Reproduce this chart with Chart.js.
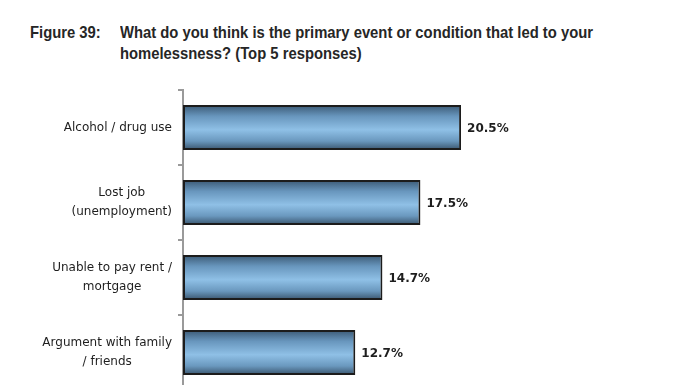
<!DOCTYPE html>
<html>
<head>
<meta charset="utf-8">
<script src="https://cdn.jsdelivr.net/npm/chart.js@4.4.1/dist/chart.umd.min.js"></script>
<style>
  html, body { margin: 0; padding: 0; overflow: hidden; background: #fff; width: 688px; height: 385px; }
  #wrap { position: relative; width: 688px; height: 395px; }
  #title { position: absolute; left: 0; top: 22px; font-family: "Liberation Sans Narrow", "Liberation Sans", Arial, sans-serif; font-weight: bold; font-size: 17px; line-height: 21px; color: #262626; }
  #title .fig { position: absolute; left: 30px; top: 0; white-space: nowrap; transform: scaleX(0.871); transform-origin: 0 0; }
  #title .txt { position: absolute; left: 120px; top: 0; white-space: nowrap; transform: scaleX(0.871); transform-origin: 0 0; }
  canvas { position: absolute; left: 0; top: 0; }
</style>
</head>
<body>
<div id="wrap">
  <div id="title"><span class="fig">Figure 39:</span><span class="txt">What do you think is the primary event or condition that led to your<br>homelessness? (Top 5 responses)</span></div>
  <canvas id="c" width="688" height="395"></canvas>
</div>
<script>
const categories = [
  ["Alcohol / drug use"],
  ["Lost job", "(unemployment)"],
  ["Unable to pay rent /", "mortgage"],
  ["Argument with family", "/ friends"]
];
const values = [20.5, 17.5, 14.7, 12.7];
const valueLabels = ["20.5%", "17.5%", "14.7%", "12.7%"];

function barGradient(context) {
  const chart = context.chart;
  const yScale = chart.scales && chart.scales.y;
  if (!yScale || !chart.chartArea) return '#6f9cc4';
  const yc = yScale.getPixelForValue(context.dataIndex);
  const half = (chart.chartArea.bottom - chart.chartArea.top) / categories.length * 0.3;
  const g = chart.ctx.createLinearGradient(0, yc - half, 0, yc + half);
  g.addColorStop(0, '#3a5873');
  g.addColorStop(0.25, '#6896bd');
  g.addColorStop(0.55, '#8fc0e6');
  g.addColorStop(0.8, '#6a98be');
  g.addColorStop(1, '#38536b');
  return g;
}

const labelPlugin = {
  id: 'customLabels',
  afterDraw(chart) {
    const ctx = chart.ctx;
    const yScale = chart.scales.y;
    ctx.save();
    ctx.font = '12px "DejaVu Sans", Verdana, sans-serif';
    ctx.fillStyle = '#1e1e1e';
    ctx.textBaseline = 'middle';
    ctx.textAlign = 'center';
    const rightEdge = yScale.right - 11;
    const lh = 18.5;
    categories.forEach((lines, i) => {
      const y = yScale.getPixelForValue(i);
      const maxW = Math.max(...lines.map(l => ctx.measureText(l).width));
      const cx = rightEdge - maxW / 2;
      const y0 = y - (lines.length - 1) * lh / 2;
      lines.forEach((l, k) => ctx.fillText(l, cx, y0 + k * lh));
    });
    ctx.font = 'bold 12px "DejaVu Sans", Verdana, sans-serif';
    ctx.textAlign = 'left';
    ctx.fillStyle = '#1e1e1e';
    const meta = chart.getDatasetMeta(0);
    meta.data.forEach((bar, i) => {
      ctx.fillText(valueLabels[i], bar.x + 6, bar.y + 1);
    });
    ctx.restore();
  }
};

new Chart(document.getElementById('c'), {
  type: 'bar',
  data: {
    labels: categories,
    datasets: [{
      data: values,
      backgroundColor: barGradient,
      borderColor: '#1c1c1c',
      borderWidth: 2,
      borderSkipped: false,
      barPercentage: 0.6,
      categoryPercentage: 1.0
    }]
  },
  options: {
    indexAxis: 'y',
    responsive: false,
    animation: false,
    events: [],
    layout: { padding: { top: 90, right: 98, bottom: 5, left: 0 } },
    plugins: { legend: { display: false }, tooltip: { enabled: false }, title: { display: false } },
    scales: {
      x: { display: false, min: 0, max: 30 },
      y: {
        afterFit(scale) { scale.width = 183; },
        ticks: { display: false },
        grid: { display: true, drawOnChartArea: false, drawTicks: true, tickLength: 5, color: '#9a9a9a', lineWidth: 2, offset: true },
        border: { display: true, color: '#9a9a9a', width: 2 }
      }
    }
  },
  plugins: [labelPlugin]
});
</script>
</body>
</html>
